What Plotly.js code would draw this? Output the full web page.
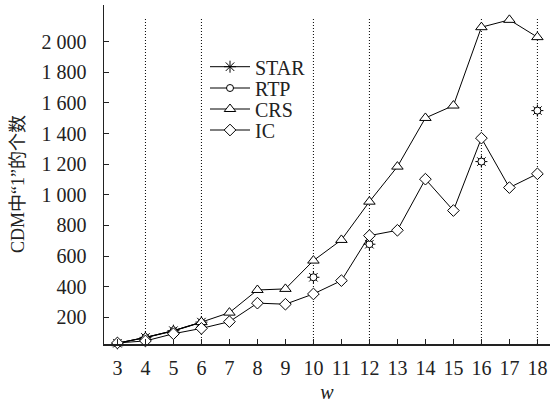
<!DOCTYPE html>
<html>
<head>
<meta charset="utf-8">
<script src="https://cdn.plot.ly/plotly-3.0.1.min.js"></script>
<style>html,body{margin:0;padding:0;background:#fff;}#chart{width:550px;height:403px;}</style>
</head>
<body>
<div id="chart"></div>
<script>
const wValues = [3,4,5,6,7,8,9,10,11,12,13,14,15,16,17,18];
const starValues = [30,68,112,168,null,null,null,461,null,677,null,null,null,1217,null,1550];
const rtpValues  = [30,66,110,166,null,null,null,461,null,677,null,null,null,1217,null,1550];
const crsValues  = [30,68,112,168,230,378,385,570,705,955,1184,1502,1583,2095,2143,2030];
const icValues   = [32,45,92,127,171,292,285,352,439,733,768,1102,897,1370,1047,1137];
const seriesNames = ["STAR","RTP","CRS","IC"];
const yTickVals = [200,400,600,800,1000,1200,1400,1600,1800,2000];
const yTickText = ["200","400","600","800","1\u00a0000","1\u00a0200","1\u00a0400","1\u00a0600","1\u00a0800","2\u00a0000"];
const xTickVals = wValues;
const refLines = [4,6,10,12,16,18];
const refLineTop = 2160;
const yMin = 25, yMax = 2240;

const serif = "Liberation Serif, Times New Roman, serif";
const ink = "#222";
const lineStyle = {color:"black", width:1};
const legendIds = ["legend","legend2","legend3","legend4"];

const traces = [
  {x:wValues, y:starValues, name:seriesNames[0], legend:legendIds[0], mode:"lines+markers", line:lineStyle, connectgaps:false,
   marker:{symbol:"asterisk-open", size:10, color:"black", line:{color:"black", width:1}}, cliponaxis:false},
  {x:wValues, y:rtpValues, name:seriesNames[1], legend:legendIds[1], mode:"lines+markers", line:lineStyle, connectgaps:false,
   marker:{symbol:"circle", size:7, color:"white", line:{color:"black", width:1}}, cliponaxis:false},
  {x:wValues, y:crsValues, name:seriesNames[2], legend:legendIds[2], mode:"lines+markers", line:lineStyle,
   marker:{symbol:"triangle-up", size:10, color:"white", line:{color:"black", width:1}}, cliponaxis:false},
  {x:wValues, y:icValues, name:seriesNames[3], legend:legendIds[3], mode:"lines+markers", line:lineStyle,
   marker:{symbol:"diamond", size:9, color:"white", line:{color:"black", width:1}}, cliponaxis:false}
];

const shapes = refLines.map(v => ({type:"line", xref:"x", yref:"y", x0:v, x1:v, y0:yMin, y1:refLineTop,
  line:{color:"black", width:1, dash:"1px,2px"}, layer:"below"}));

const plotTop = 5, plotBottom = 344, plotH = plotBottom - plotTop;
const legendCentersPx = [66.7, 88, 109, 130];
const legendLeftPx = 205, plotLeft = 104, plotW = 446;

const layout = {
  width:550, height:403,
  margin:{l:104, r:0, t:5, b:59},
  paper_bgcolor:"white", plot_bgcolor:"white",
  font:{family:serif, size:20, color:ink},
  showlegend:true,
  xaxis:{range:[2.52,18.45], tickvals:xTickVals, ticks:"inside", ticklen:5, tickcolor:ink,
    showgrid:false, zeroline:false, showline:true, linecolor:ink, linewidth:1.5,
    tickfont:{family:serif, size:20, color:ink}, ticklabelstandoff:5,
    title:{text:"<i>w</i>", font:{family:serif, size:20, color:ink}, standoff:7}},
  yaxis:{range:[yMin,yMax], tickvals:yTickVals, ticktext:yTickText, ticks:"inside", ticklen:5, tickcolor:ink,
    showgrid:false, zeroline:false, showline:true, linecolor:ink, linewidth:1.5,
    tickfont:{family:serif, size:20, color:ink}, ticklabelstandoff:12},
  shapes:shapes,
  annotations:[{xref:"paper", yref:"paper", x:0, y:0.472, xshift:-86, xanchor:"center", yanchor:"middle",
    text:"CDM中“1”的个数", textangle:-90, showarrow:false,
    font:{family:"Liberation Serif, Noto Sans CJK SC, serif", size:18, color:ink}}]
};
legendIds.forEach((id, i) => {
  layout[id] = {x:(legendLeftPx - plotLeft)/plotW, y:(plotBottom - legendCentersPx[i])/plotH,
    xanchor:"left", yanchor:"middle", bgcolor:"rgba(0,0,0,0)", borderwidth:0, itemwidth:40,
    font:{family:serif, size:20, color:ink}};
});

Plotly.newPlot("chart", traces, layout, {displayModeBar:false, staticPlot:true});
</script>
</body>
</html>
